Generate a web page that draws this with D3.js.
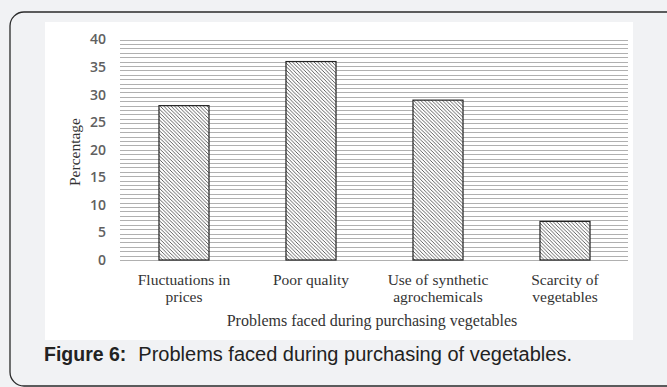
<!DOCTYPE html>
<html>
<head>
<meta charset="utf-8">
<script src="https://cdn.jsdelivr.net/npm/d3@7/dist/d3.min.js"></script>
<style>
  html, body { margin: 0; padding: 0; background: #f1f2f4; }
  svg { display: block; }
</style>
</head>
<body>
<script>
// Share of respondents reporting each problem (%)
const categories = [
  ["Fluctuations in", "prices"],
  ["Poor quality"],
  ["Use of synthetic", "agrochemicals"],
  ["Scarcity of", "vegetables"]
];
const values = [28, 36, 29, 7];
const yTicks = [0, 5, 10, 15, 20, 25, 30, 35, 40];
const xTitle = "Problems faced during purchasing vegetables";
const yTitle = "Percentage";
const captionLead = "Figure 6:";
const captionText = "Problems faced during purchasing of vegetables.";

const W = 667, H = 387;
const svg = d3.select("body").append("svg").attr("width", W).attr("height", H);

// card frame
svg.append("rect")
  .attr("x", 10).attr("y", 12).attr("width", W + 20).attr("height", H - 13)
  .attr("rx", 14).attr("fill", "#f1f2f4").attr("stroke", "#2a2a2a").attr("stroke-width", 1.3);

// white chart panel
svg.append("rect")
  .attr("x", 45).attr("y", 22).attr("width", 588).attr("height", 318)
  .attr("fill", "#ffffff");

// diagonal hatch for the bars
const defs = svg.append("defs");
const hatch = defs.append("pattern")
  .attr("id", "hatch").attr("patternUnits", "userSpaceOnUse")
  .attr("width", 3.6).attr("height", 3.6);
hatch.append("rect").attr("width", 3.6).attr("height", 3.6).attr("fill", "#fff");
hatch.append("path")
  .attr("d", "M-1,-1 L4.6,4.6 M-1,2.6 L1,4.6 M2.6,-1 L4.6,1")
  .attr("stroke", "#3a3a3a").attr("stroke-width", 0.8);

const x = d3.scaleBand()
  .domain(categories.map(d => d.join(" ")))
  .range([120.5, 628.5])
  .paddingInner(0.606)
  .paddingOuter(0.303);

const y = d3.scaleLinear().domain([0, 40]).range([260, 39.5]);

// dense horizontal rules across the plot area
const rules = d3.range(0, 40.001, 0.8);
svg.append("g").selectAll("line").data(rules).join("line")
  .attr("x1", 120).attr("x2", 628)
  .attr("y1", d => Math.round(y(d)) + 0.5).attr("y2", d => Math.round(y(d)) + 0.5)
  .attr("stroke", "#b0b0b0").attr("stroke-width", 1.1);

// y axis labels
const yAxis = d3.axisLeft(y).tickValues(yTicks).tickSize(0).tickPadding(0);
const yg = svg.append("g").attr("transform", "translate(106,0)").call(yAxis);
yg.select(".domain").remove();
yg.selectAll("text")
  .attr("fill", "#606060").attr("font-family", "'Open Sans', 'Liberation Sans', sans-serif")
  .attr("font-size", 14).attr("font-weight", 600);

// bars
svg.append("g").selectAll("rect").data(values).join("rect")
  .attr("x", (d, i) => x(categories[i].join(" ")))
  .attr("y", d => y(d))
  .attr("width", x.bandwidth())
  .attr("height", d => y(0) - y(d))
  .attr("fill", "url(#hatch)")
  .attr("stroke", "#222").attr("stroke-width", 1.2);

// category labels
const serif = "'Liberation Serif', 'Times New Roman', serif";
const cg = svg.append("g");
categories.forEach((lines, i) => {
  const cx = x(lines.join(" ")) + x.bandwidth() / 2;
  const t = cg.append("text")
    .attr("x", cx).attr("y", 285)
    .attr("text-anchor", "middle")
    .attr("font-family", serif).attr("font-size", 15.5).attr("fill", "#333");
  lines.forEach((ln, j) => {
    t.append("tspan").attr("x", cx).attr("dy", j === 0 ? 0 : 17).text(ln);
  });
});

// axis titles
svg.append("text")
  .attr("x", 372).attr("y", 326).attr("text-anchor", "middle")
  .attr("font-family", serif).attr("font-size", 16).attr("fill", "#333")
  .text(xTitle);

svg.append("text")
  .attr("transform", "translate(80,152) rotate(-90)")
  .attr("text-anchor", "middle")
  .attr("font-family", serif).attr("font-size", 15.5).attr("fill", "#333")
  .text(yTitle);

// caption
const cap = svg.append("text")
  .attr("x", 44).attr("y", 361)
  .attr("font-family", "'Liberation Sans', Arial, sans-serif")
  .attr("fill", "#222");
cap.append("tspan").attr("font-weight", "bold").attr("font-size", 19.5).text(captionLead);
cap.append("tspan").attr("dx", 12).attr("font-size", 20).text(captionText);
</script>
</body>
</html>
